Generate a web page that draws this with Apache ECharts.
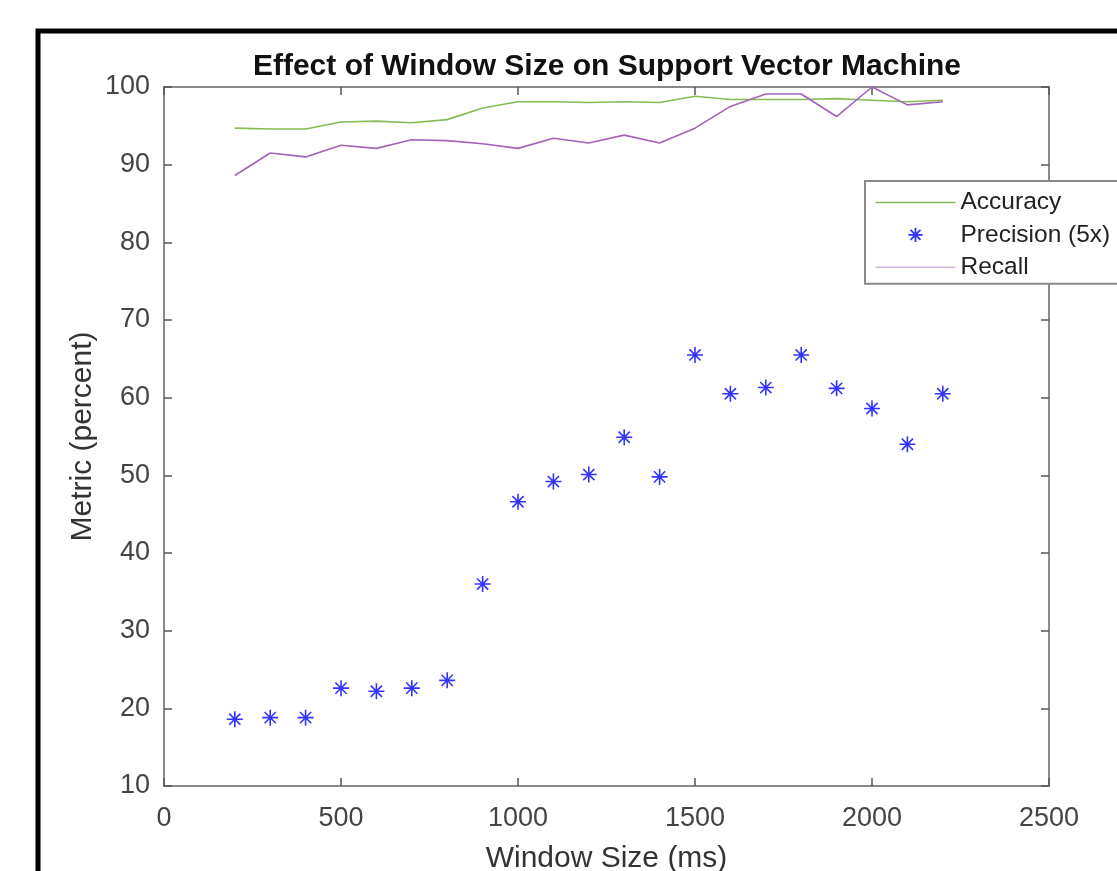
<!DOCTYPE html>
<html>
<head>
<meta charset="utf-8">
<script src="https://cdn.jsdelivr.net/npm/echarts@6/dist/echarts.min.js"></script>
<style>
html,body{margin:0;padding:0;background:#fff;}
#chart{width:1117px;height:871px;}
</style>
</head>
<body>
<div id="chart"></div>
<script>
var windowSizes = [200,300,400,500,600,700,800,900,1000,1100,1200,1300,1400,1500,1600,1700,1800,1900,2000,2100,2200];
var accuracy = [94.7,94.6,94.6,95.5,95.6,95.4,95.8,97.3,98.1,98.1,98.0,98.1,98.0,98.8,98.4,98.4,98.4,98.5,98.3,98.1,98.3];
var precision5x = [18.6,18.8,18.8,22.6,22.2,22.6,23.6,36.0,46.6,49.2,50.1,54.9,49.8,65.5,60.5,61.3,65.5,61.2,58.6,54.0,60.5];
var recall = [88.6,91.5,91.0,92.5,92.1,93.2,93.1,92.7,92.1,93.4,92.8,93.8,92.8,94.7,97.5,99.1,99.1,96.2,100.0,97.7,98.1];
var xTicks = [0,500,1000,1500,2000,2500];
var yTicks = [10,20,30,40,50,60,70,80,90,100];
var seriesNames = ['Accuracy','Precision (5x)','Recall'];
var titleText = 'Effect of Window Size on Support Vector Machine';
var xName = 'Window Size (ms)';
var yName = 'Metric (percent)';

function pairs(xs, ys){ return xs.map(function(x,i){ return [x, ys[i]]; }); }

var accColor = '#86bb55';
var recColor = '#a462b8';
var precColor = '#0000ff';
var starPath = 'path://M0,-1L0,1M-1,0L1,0M-0.7,-0.7L0.7,0.7M-0.7,0.7L0.7,-0.7';
var starLegend = 'path://M-5,-1.5M5,1.5M0,-0.9L0,0.9M-0.9,0L0.9,0M-0.62,-0.62L0.62,0.62M-0.62,0.62L0.62,-0.62';
var lineLegend = 'path://M0,-1.5M10,1.5M0,0L10,0';

var axisLineStyle = {color:'#8a8a8a', width:2};
var tickStyle = {color:'#555', width:1.5};
var font = 'Liberation Sans, Arial, Helvetica, sans-serif';

var chart = echarts.init(document.getElementById('chart'), null, {renderer:'canvas'});
var option = {
  backgroundColor:'#fff',
  animation:false,
  textStyle:{fontFamily:font},
  title:{
    text:titleText, left:607, textAlign:'center', top:52, padding:0,
    textStyle:{fontFamily:font, fontSize:30, fontWeight:'bold', color:'#111'}
  },
  grid:{left:164, right:68, top:87, bottom:85, containLabel:false, outerBoundsMode:'none'},
  graphic:[{
    type:'rect', silent:true, z:-1,
    shape:{x:38, y:31, width:1200, height:1000},
    style:{fill:'none', stroke:'#000', lineWidth:5}
  }],
  legend:{
    orient:'vertical', left:865, top:181,
    backgroundColor:'#fff', borderColor:'#8a8a8a', borderWidth:2,
    padding:[7,8,2,8],
    itemWidth:80, itemHeight:24, itemGap:5,
    z:10,
    textStyle:{fontFamily:font, fontSize:24.5, color:'#222', lineHeight:24},
    data:[
      {name:seriesNames[0], icon:lineLegend, itemStyle:{color:'none', borderColor:accColor, borderWidth:1.6}},
      {name:seriesNames[1], icon:starLegend, itemStyle:{color:precColor, borderColor:precColor, borderWidth:1.8}},
      {name:seriesNames[2], icon:lineLegend, itemStyle:{color:'none', borderColor:'#d2b4dc', borderWidth:1.6}}
    ]
  },
  xAxis:[{
    type:'value', min:0, max:2500, interval:500, position:'bottom',
    name:xName, nameLocation:'middle', nameGap:58,
    nameTextStyle:{fontFamily:font, fontSize:30, color:'#333'},
    axisLine:{show:true, onZero:false, lineStyle:axisLineStyle},
    axisTick:{show:true, inside:true, length:8, lineStyle:tickStyle},
    axisLabel:{fontFamily:font, fontSize:27, color:'#444', margin:19,
      formatter:function(v){ return xTicks.indexOf(v) >= 0 ? String(v) : ''; }},
    splitLine:{show:false}
  },{
    type:'value', min:0, max:2500, interval:500, position:'top',
    axisLine:{show:true, onZero:false, lineStyle:axisLineStyle},
    axisTick:{show:true, inside:true, length:8, lineStyle:tickStyle},
    axisLabel:{show:false}, splitLine:{show:false}
  }],
  yAxis:[{
    type:'value', min:10, max:100, interval:10, position:'left',
    name:yName, nameLocation:'middle', nameGap:66, nameMoveOverlap:false,
    nameTextStyle:{fontFamily:font, fontSize:30, color:'#333'},
    axisLine:{show:true, onZero:false, lineStyle:axisLineStyle},
    axisTick:{show:true, inside:true, length:8, lineStyle:tickStyle},
    axisLabel:{fontFamily:font, fontSize:27, color:'#444', margin:14,
      formatter:function(v){ return yTicks.indexOf(v) >= 0 ? String(v) : ''; }},
    splitLine:{show:false}
  },{
    type:'value', min:10, max:100, interval:10, position:'right',
    axisLine:{show:true, onZero:false, lineStyle:axisLineStyle},
    axisTick:{show:true, inside:true, length:8, lineStyle:tickStyle},
    axisLabel:{show:false}, splitLine:{show:false}
  }],
  series:[{
    name:seriesNames[0], type:'line', xAxisIndex:0, yAxisIndex:0,
    data:pairs(windowSizes, accuracy), symbol:'none',
    lineStyle:{color:accColor, width:1.6}, itemStyle:{color:accColor},
    emphasis:{disabled:true}, silent:true
  },{
    name:seriesNames[1], type:'scatter', xAxisIndex:0, yAxisIndex:0,
    data:pairs(windowSizes, precision5x), symbol:starPath, symbolSize:16,
    itemStyle:{color:precColor, borderColor:precColor, borderWidth:1.6},
    emphasis:{disabled:true}, silent:true
  },{
    name:seriesNames[2], type:'line', xAxisIndex:0, yAxisIndex:0,
    data:pairs(windowSizes, recall), symbol:'none',
    lineStyle:{color:recColor, width:1.6}, itemStyle:{color:recColor},
    emphasis:{disabled:true}, silent:true
  }]
};
chart.setOption(option);
</script>
</body>
</html>
